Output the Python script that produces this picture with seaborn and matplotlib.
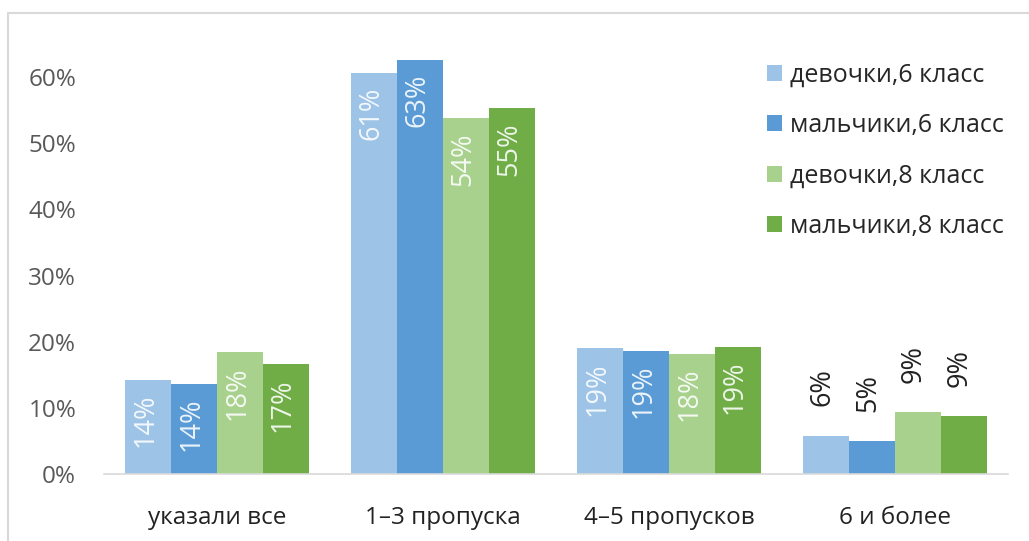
import matplotlib
matplotlib.use("Agg")
import matplotlib.pyplot as plt
import seaborn as sns
import pandas as pd
from matplotlib.lines import Line2D
from matplotlib.patches import Patch
from matplotlib.ticker import PercentFormatter

categories = ["указали все", "1–3 пропуска", "4–5 пропусков", "6 и более"]
series = ["девочки,6 класс", "мальчики,6 класс", "девочки,8 класс", "мальчики,8 класс"]
girls6 = [14.2, 60.7, 19.0, 5.8]
boys6 = [13.6, 62.6, 18.6, 5.0]
girls8 = [18.4, 53.8, 18.2, 9.3]
boys8 = [16.6, 55.3, 19.2, 8.8]
colors = ["#9DC3E6", "#5B9BD5", "#A9D18E", "#70AD47"]

values = [girls6, boys6, girls8, boys8]
rows = []
for s, vals in zip(series, values):
    for c, v in zip(categories, vals):
        rows.append({"cat": c, "series": s, "val": v})
df = pd.DataFrame(rows)

sns.set_theme(style="white")
plt.rcParams["font.family"] = ["Open Sans", "DejaVu Sans"]

fig = plt.figure(figsize=(10.29, 5.41), dpi=100)
ax = fig.add_axes([104 / 1029, 1 - 474 / 541, 904 / 1029, 463 / 541])

sns.barplot(data=df, x="cat", y="val", hue="series", order=categories,
            hue_order=series, palette=colors, saturation=1, width=0.81,
            gap=0, edgecolor="none", linewidth=0, ax=ax, legend=False)

ax.set_ylim(0, 70)
ax.set_xlim(-0.5, 3.5)
ax.set_yticks(range(0, 61, 10))
ax.yaxis.set_major_formatter(PercentFormatter(decimals=0))
ax.set_xlabel("")
ax.set_ylabel("")
for sp in ["top", "right", "left"]:
    ax.spines[sp].set_visible(False)
ax.spines["bottom"].set_color("#d9d9d9")
ax.spines["bottom"].set_linewidth(1.2)
ax.tick_params(axis="y", labelsize=17.5, labelcolor="#595959", length=0, pad=20)
ax.tick_params(axis="x", labelsize=17.5, labelcolor="#222222", length=0, pad=23)

# value labels
for ci, cont in enumerate(ax.containers):
    for cat_i, bar in enumerate(cont):
        v = bar.get_height()
        x = bar.get_x() + bar.get_width() / 2
        txt = f"{round(v):d}%"
        if v > 10:
            ax.annotate(txt, (x, v), xytext=(-2, -10), textcoords="offset points",
                        rotation=90, ha="center", va="top", fontsize=19.5,
                        color="white", alpha=0.88)
        else:
            ax.annotate(txt, (x, v), xytext=(-3, 21), textcoords="offset points",
                        rotation=90, ha="center", va="bottom", fontsize=19.5,
                        color="#222222")

handles = [Patch(facecolor=c, edgecolor="none") for c in colors]
leg = fig.legend(handles, series, loc="upper left",
                 bbox_to_anchor=(744 / 1029, 1 - 40 / 541), frameon=False,
                 fontsize=18, handlelength=0.6, handleheight=0.6,
                 handletextpad=0.33, labelspacing=1.02)
for t in leg.get_texts():
    t.set_color("#262626")

# outer frame
fig.add_artist(Line2D([8 / 1029, 8 / 1029], [1 - 13 / 541, -0.1],
                      transform=fig.transFigure, color="#d9d9d9", lw=1.5))
fig.add_artist(Line2D([8 / 1029, 1.1], [1 - 13 / 541, 1 - 13 / 541],
                      transform=fig.transFigure, color="#d9d9d9", lw=1.5))

fig.savefig("out.png", dpi=100, facecolor="white")
